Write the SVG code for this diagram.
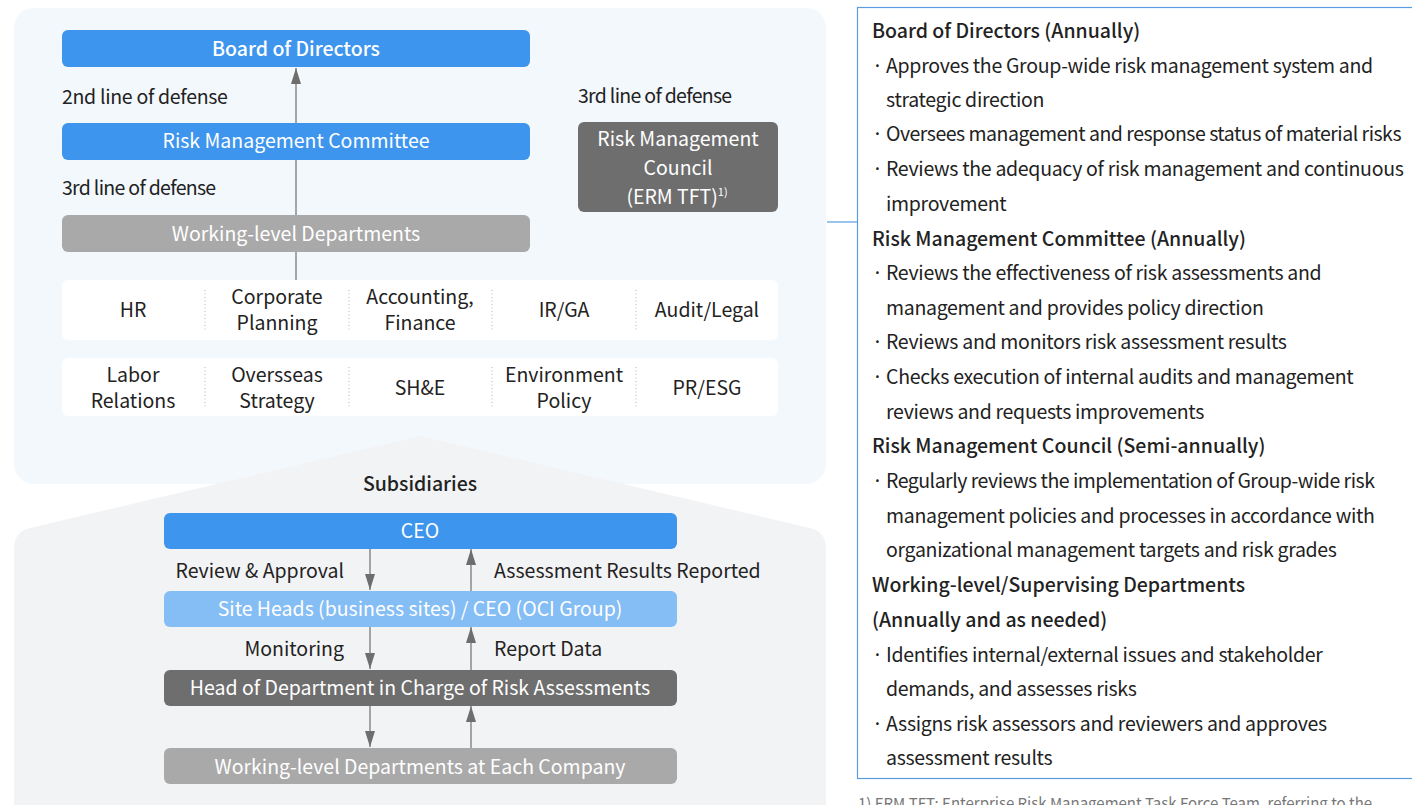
<svg xmlns="http://www.w3.org/2000/svg" width="1412" height="805" viewBox="0 0 1412 805">
<style>
text{font-family:"Noto Sans CJK KR","Noto Sans",sans-serif;}
.w{fill:#fff;font-size:19.5px;text-anchor:middle;}
.d{fill:#222;font-size:19.5px;letter-spacing:-0.3px;}
.d3{fill:#222;font-size:19.5px;letter-spacing:-0.7px;}
.f{fill:#222;font-size:19.5px;}
.c{fill:#222;font-size:19.5px;text-anchor:middle;}
.h{font-weight:500;}
.blue{fill:#3d95ee;}
.lblue{fill:#85bdf5;}
.dark{fill:#6e6e6e;}
.gray{fill:#a9a9a9;}
.cell{fill:#fff;}
.sep{stroke:#b5b5b5;stroke-width:1;stroke-dasharray:1 2.5;}
.arr{stroke:#8a8a8a;stroke-width:1.5;fill:none;marker-end:url(#ah);}
.r{fill:#222;font-size:19.5px;letter-spacing:-0.3px;}
.rh{fill:#222;font-size:19.5px;font-weight:500;}
.rt{fill:#222;font-size:19.5px;letter-spacing:-0.5px;}
</style>
<defs>
<marker id="ah" viewBox="0 0 16 10" refX="16" refY="5" markerWidth="16" markerHeight="10" markerUnits="userSpaceOnUse" orient="auto">
<path d="M0,0 L16,5 L0,10 Z" fill="#6e6e6e"/>
</marker>
</defs>
<rect x="0" y="0" width="1412" height="805" fill="#fff"/>
<g id="panels">
<rect x="14" y="8" width="812" height="476" rx="20" fill="#f3f8fd"/>
<path d="M14,810 L14,548 Q14,532 30,528 L420,436 L810,528 Q826,532 826,548 L826,810 Z" fill="#f2f3f5"/>
<rect x="857.5" y="7.5" width="570" height="771" fill="#fff" stroke="#5b9be0" stroke-width="1.2"/>
</g>
<g id="connectors">
<line class="arr" x1="296" y1="280" x2="296" y2="68"/>
<line x1="827" y1="222" x2="857" y2="222" stroke="#5b9be0" stroke-width="1.2"/>
<line class="arr" x1="370" y1="549" x2="370" y2="590"/>
<line class="arr" x1="471" y1="591" x2="471" y2="549"/>
<line class="arr" x1="370" y1="627" x2="370" y2="669"/>
<line class="arr" x1="471" y1="670" x2="471" y2="627"/>
<line class="arr" x1="370" y1="706" x2="370" y2="747"/>
<line class="arr" x1="471" y1="748" x2="471" y2="706"/>
</g>
<g id="bod">
<rect class="blue" x="62" y="30" width="468" height="37" rx="6"/>
<text class="w h" x="296" y="56">Board of Directors</text>
</g>
<g id="labels-left">
<text class="d" x="62" y="104">2nd line of defense</text>
<text class="d3" x="62" y="195">3rd line of defense</text>
<text class="d3" x="578" y="103">3rd line of defense</text>
</g>
<g id="rmc">
<rect class="blue" x="62" y="123" width="468" height="37" rx="6"/>
<text class="w" x="296" y="148">Risk Management Committee</text>
</g>
<g id="wld">
<rect class="gray" x="62" y="215" width="468" height="37" rx="6"/>
<text class="w" x="296" y="241">Working-level Departments</text>
</g>
<g id="council">
<rect class="dark" x="578" y="122" width="200" height="90" rx="6"/>
<text class="w" x="678" y="146">Risk Management</text>
<text class="w" x="678" y="175">Council</text>
<text class="w" x="677" y="204">(ERM TFT)<tspan font-size="11" dy="-8">1)</tspan></text>
</g>
<g id="row1">
<rect class="cell" x="62" y="280" width="716" height="60" rx="6"/>
<line class="sep" x1="205" y1="290" x2="205" y2="330"/>
<line class="sep" x1="349" y1="290" x2="349" y2="330"/>
<line class="sep" x1="492" y1="290" x2="492" y2="330"/>
<line class="sep" x1="636" y1="290" x2="636" y2="330"/>
<text class="c" x="133" y="317">HR</text>
<text class="c" x="277" y="304">Corporate</text>
<text class="c" x="277" y="330">Planning</text>
<text class="c" x="420" y="304">Accounting,</text>
<text class="c" x="420" y="330">Finance</text>
<text class="c" x="564" y="317">IR/GA</text>
<text class="c" x="707" y="317">Audit/Legal</text>
</g>
<g id="row2">
<rect class="cell" x="62" y="358" width="716" height="58" rx="6"/>
<line class="sep" x1="205" y1="367" x2="205" y2="407"/>
<line class="sep" x1="349" y1="367" x2="349" y2="407"/>
<line class="sep" x1="492" y1="367" x2="492" y2="407"/>
<line class="sep" x1="636" y1="367" x2="636" y2="407"/>
<text class="c" x="133" y="382">Labor</text>
<text class="c" x="133" y="408">Relations</text>
<text class="c" x="277" y="382">Oversseas</text>
<text class="c" x="277" y="408">Strategy</text>
<text class="c" x="420" y="395">SH&amp;E</text>
<text class="c" x="564" y="382">Environment</text>
<text class="c" x="564" y="408">Policy</text>
<text class="c" x="707" y="395">PR/ESG</text>
</g>
<g id="subsidiaries">
<text class="c h" x="420" y="491">Subsidiaries</text>
</g>
<g id="ceo">
<rect class="blue" x="164" y="513" width="513" height="36" rx="6"/>
<text class="w" x="420" y="538">CEO</text>
</g>
<g id="flow-labels">
<text class="f" x="344" y="578" text-anchor="end">Review &amp; Approval</text>
<text class="f" x="494" y="578">Assessment Results Reported</text>
<text class="f" x="344" y="656" text-anchor="end">Monitoring</text>
<text class="f" x="494" y="656">Report Data</text>
</g>
<g id="siteheads">
<rect class="lblue" x="164" y="591" width="513" height="36" rx="6"/>
<text class="w" x="420" y="616">Site Heads (business sites) / CEO (OCI Group)</text>
</g>
<g id="head">
<rect class="dark" x="164" y="670" width="513" height="36" rx="6"/>
<text class="w" x="420" y="695">Head of Department in Charge of Risk Assessments</text>
</g>
<g id="wldeach">
<rect class="gray" x="164" y="748" width="513" height="36" rx="6"/>
<text class="w" x="420" y="774">Working-level Departments at Each Company</text>
</g>
<g id="description">
<text class="rh" x="872" y="38">Board of Directors (Annually)</text>
<text class="r" x="872" y="73">·</text><text class="r" x="886" y="73">Approves the Group-wide risk management system and</text>
<text class="r" x="886" y="107">strategic direction</text>
<text class="r" x="872" y="141">·</text><text class="rt" x="886" y="141">Oversees management and response status of material risks</text>
<text class="r" x="872" y="176">·</text><text class="r" x="886" y="176">Reviews the adequacy of risk management and continuous</text>
<text class="r" x="886" y="211">improvement</text>
<text class="rh" x="872" y="246">Risk Management Committee (Annually)</text>
<text class="r" x="872" y="280">·</text><text class="r" x="886" y="280">Reviews the effectiveness of risk assessments and</text>
<text class="r" x="886" y="315">management and provides policy direction</text>
<text class="r" x="872" y="349">·</text><text class="r" x="886" y="349">Reviews and monitors risk assessment results</text>
<text class="r" x="872" y="384">·</text><text class="r" x="886" y="384">Checks execution of internal audits and management</text>
<text class="r" x="886" y="419">reviews and requests improvements</text>
<text class="rh" x="872" y="453">Risk Management Council (Semi-annually)</text>
<text class="r" x="872" y="488">·</text><text class="rt" x="886" y="488">Regularly reviews the implementation of Group-wide risk</text>
<text class="r" x="886" y="523">management policies and processes in accordance with</text>
<text class="r" x="886" y="557">organizational management targets and risk grades</text>
<text class="rh" x="872" y="592">Working-level/Supervising Departments</text>
<text class="rh" x="872" y="627">(Annually and as needed)</text>
<text class="r" x="872" y="662">·</text><text class="r" x="886" y="662">Identifies internal/external issues and stakeholder</text>
<text class="r" x="886" y="696">demands, and assesses risks</text>
<text class="r" x="872" y="731">·</text><text class="r" x="886" y="731">Assigns risk assessors and reviewers and approves</text>
<text class="r" x="886" y="765">assessment results</text>
</g>
<g id="footnote">
<text x="858" y="809" fill="#777" font-size="15">1) ERM TFT: Enterprise Risk Management Task Force Team, referring to the</text>
</g>
</svg>
